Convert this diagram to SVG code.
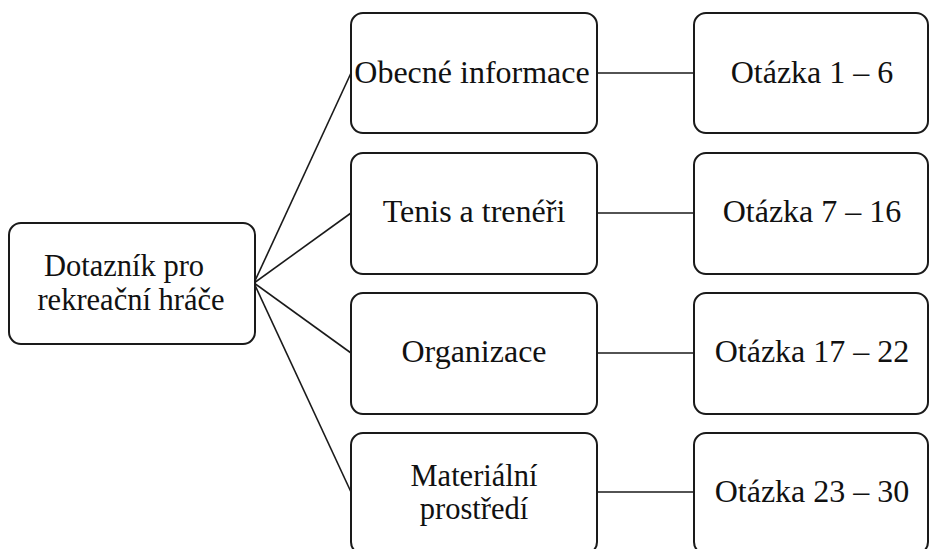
<svg xmlns="http://www.w3.org/2000/svg" width="930" height="549" viewBox="0 0 930 549">
  <style>
    .box { fill: #ffffff; stroke: #1a1a1a; stroke-width: 2; }
    .link { stroke: #1a1a1a; stroke-width: 1.6; fill: none; }
    .label { font-family: "Liberation Serif", "Times New Roman", serif; font-size: 32px; fill: #111111; text-anchor: middle; }
    .two { font-size: 30.5px; }
  </style>
  <rect width="930" height="549" fill="#ffffff"/>

  <!-- connectors -->
  <g id="connectors">
    <line class="link" x1="254" y1="283" x2="351" y2="73"/>
    <line class="link" x1="254" y1="283" x2="351" y2="213"/>
    <line class="link" x1="254" y1="283" x2="351" y2="353"/>
    <line class="link" x1="254" y1="283" x2="351" y2="492"/>
    <line class="link" x1="597" y1="73" x2="694" y2="73"/>
    <line class="link" x1="597" y1="213" x2="694" y2="213"/>
    <line class="link" x1="597" y1="353" x2="694" y2="353"/>
    <line class="link" x1="597" y1="492" x2="694" y2="492"/>
  </g>

  <!-- root -->
  <g id="root">
    <rect class="box" x="9" y="223" width="246" height="121" rx="12"/>
    <text class="label two" x="124" y="276">Dotazník pro</text>
    <text class="label two" x="131" y="310">rekreační hráče</text>
  </g>

  <!-- topics -->
  <g id="topic-general">
    <rect class="box" x="351" y="13" width="246" height="120" rx="12"/>
    <text class="label" x="472" y="83">Obecné informace</text>
  </g>
  <g id="topic-tennis">
    <rect class="box" x="351" y="153" width="246" height="121" rx="12"/>
    <text class="label" x="474" y="222">Tenis a trenéři</text>
  </g>
  <g id="topic-organisation">
    <rect class="box" x="351" y="293" width="246" height="121" rx="12"/>
    <text class="label" x="474" y="362">Organizace</text>
  </g>
  <g id="topic-material">
    <rect class="box" x="351" y="433" width="246" height="121" rx="12"/>
    <text class="label two" x="474" y="486">Materiální</text>
    <text class="label two" x="474" y="519">prostředí</text>
  </g>

  <!-- question ranges -->
  <g id="questions-1-6">
    <rect class="box" x="694" y="13" width="234" height="120" rx="12"/>
    <text class="label" x="812" y="83">Otázka 1 – 6</text>
  </g>
  <g id="questions-7-16">
    <rect class="box" x="694" y="153" width="234" height="121" rx="12"/>
    <text class="label" x="812" y="222">Otázka 7 – 16</text>
  </g>
  <g id="questions-17-22">
    <rect class="box" x="694" y="293" width="234" height="121" rx="12"/>
    <text class="label" x="812" y="362">Otázka 17 – 22</text>
  </g>
  <g id="questions-23-30">
    <rect class="box" x="694" y="433" width="234" height="121" rx="12"/>
    <text class="label" x="812" y="502">Otázka 23 – 30</text>
  </g>
</svg>
